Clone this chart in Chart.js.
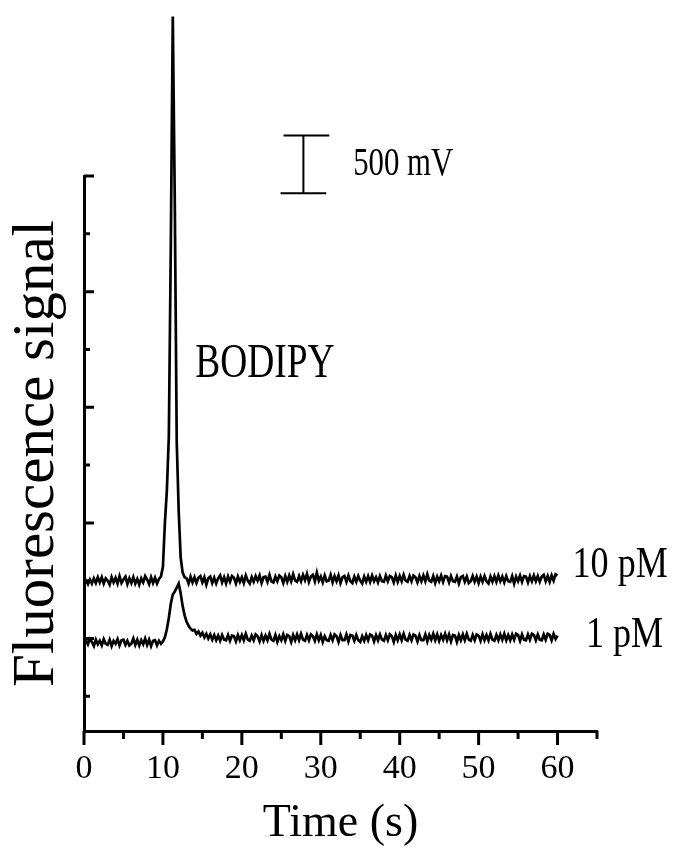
<!DOCTYPE html>
<html>
<head>
<meta charset="utf-8">
<script src="https://cdn.jsdelivr.net/npm/chart.js@4.4.0/dist/chart.umd.min.js"></script>
<style>
  body { margin: 0; background: #fff; }
  canvas { display: block; }
</style>
</head>
<body>
<canvas id="traceChart" width="674" height="852"></canvas>
<script>
// detector traces, mV, one reading every 0.25 s from 0 to 60 s
const sampleStep = 0.25;

const tenPmSignal = [
  960, 1000, 970, 1010,   975, 1020, 980, 1030,   985, 1030, 975, 1020,   1000, 965, 1030, 985,
  1025, 975, 1040, 980,   1010, 1035, 970, 1020,   980, 1030, 975, 1015,   965, 1020, 985, 1040,
  1010, 970, 1030, 980,   1025, 975, 1015, 1035,   1120, 1500, 1780, 2250,   3900, 5880, 4300, 2200,
  1600, 1200, 1070, 1030,   1020, 975, 1035, 985,   1030, 980, 1025, 1040,   985, 1030, 965, 1020,
  1035, 980, 1025, 975,   1020, 1045, 985, 1030,   975, 1035, 990, 1040,   1025, 975, 1035, 990,
  1030, 980, 1045, 1000,   975, 1030, 990, 1040,   1000, 1045, 980, 1030,   1035, 990, 1050, 995,
  985, 1035, 995, 1045,   1030, 980, 1040, 990,   1045, 995, 1055, 1000,   990, 1040, 995, 1050,
  1005, 1060, 990, 1035,   1050, 995, 1070, 1000,   1035, 985, 1045, 995,   1000, 1050, 985, 1040,
  995, 1045, 980, 1030,   1040, 990, 1045, 995,   980, 1035, 990, 1040,   1000, 975, 1035, 990,
  1040, 990, 1045, 995,   1030, 985, 1040, 995,   990, 1045, 995, 1040,   1030, 985, 1045, 990,
  1040, 995, 1050, 1000,   990, 1040, 995, 1045,   1030, 985, 1040, 995,   1045, 995, 1055, 1000,
  990, 1040, 980, 1035,   995, 1045, 990, 1040,   1035, 985, 1040, 995,   990, 1035, 975, 1030,
  1040, 990, 1035, 980,   995, 1040, 990, 1035,   980, 1035, 990, 1040,   995, 975, 1035, 990,
  1040, 990, 1045, 995,   1035, 985, 1040, 995,   990, 1040, 975, 1035,   995, 1045, 990, 1040,
  1035, 985, 1040, 995,   1045, 995, 1040, 990,   1035, 1050, 995, 1040,   990, 1045, 1000, 1055,
  1045
];

const onePmSignal = [
  440, 485, 450, 495,   470, 435, 490, 450,   480, 440, 495, 455,   445, 490, 435, 480,
  455, 495, 440, 485,   490, 445, 480, 440,   455, 500, 445, 490,   440, 485, 450, 500,
  445, 490, 435, 480,   485, 440, 480, 455,   475, 510, 580, 680,   800, 880, 905, 940,
  975, 890, 780, 700,   645, 610, 585, 570,   575, 540, 560, 525,   550, 510, 540, 500,
  535, 490, 530, 485,   525, 480, 530, 490,   485, 530, 480, 525,   520, 475, 530, 485,
  530, 485, 540, 490,   480, 525, 485, 535,   520, 475, 530, 480,   525, 485, 540, 490,
  480, 530, 470, 520,   485, 535, 480, 530,   520, 470, 530, 485,   535, 485, 540, 490,
  480, 530, 485, 535,   520, 480, 535, 485,   530, 470, 520, 485,   480, 530, 485, 535,
  520, 470, 530, 485,   485, 535, 475, 530,   525, 480, 530, 485,   470, 520, 480, 530,
  485, 535, 525, 475,   530, 485, 535, 490,   480, 530, 485, 535,   520, 470, 530, 485,
  535, 485, 540, 490,   480, 530, 485, 535,   525, 475, 530, 485,   485, 535, 475, 530,
  490, 540, 485, 535,   480, 530, 490, 540,   485, 535, 475, 530,   525, 470, 530, 485,
  535, 485, 540, 490,   480, 530, 485, 535,   525, 480, 535, 485,   530, 485, 540, 490,
  480, 530, 485, 535,   490, 540, 485, 530,   485, 535, 490, 540,   530, 480, 535, 490,
  485, 535, 490, 540,   530, 485, 535, 490,   485, 535, 490, 540,   530, 485, 540, 495,
  525
];

const seriesLabels = ['10 pM', '1 pM'];
const xTickValues = [0, 5, 10, 15, 20, 25, 30, 35, 40, 45, 50, 55, 60, 65];
const xTickLabels = [0, 10, 20, 30, 40, 50, 60];
const yTickValues = [0, 500, 1000, 1500, 2000, 2500, 3000, 3500, 4000, 4500];
const scaleBarMv = 500;

const serif = '"Liberation Serif", "Times New Roman", serif';

function toPoints(values) {
  return values.map((v, i) => ({ x: i * sampleStep, y: v }));
}

// narrow serif text like the typeset labels in the figure
function squeezedText(ctx, text, x, y, size, squeeze) {
  ctx.save();
  ctx.font = size + 'px ' + serif;
  ctx.fillStyle = '#000';
  ctx.textBaseline = 'alphabetic';
  ctx.translate(x, y);
  ctx.scale(squeeze, 1);
  ctx.fillText(text, 0, 0);
  ctx.restore();
}

const tickMarks = {
  id: 'tickMarks',
  afterDraw(chart) {
    const ctx = chart.ctx;
    const xs = chart.scales.x;
    const ys = chart.scales.y;
    ctx.save();
    ctx.strokeStyle = '#000';
    ctx.lineWidth = 3;
    ctx.beginPath();
    xTickValues.forEach(v => {
      const px = xs.getPixelForValue(v);
      const len = v % 10 === 0 ? 14 : 8;
      ctx.moveTo(px, xs.top);
      ctx.lineTo(px, xs.top + len);
    });
    yTickValues.forEach(v => {
      const py = ys.getPixelForValue(v);
      const len = v % 1000 === 500 ? 10 : 6;
      ctx.moveTo(ys.right, py);
      ctx.lineTo(ys.right + len, py);
    });
    ctx.stroke();
    ctx.restore();
  }
};

const notes = {
  id: 'notes',
  afterDraw(chart) {
    const ctx = chart.ctx;
    const xs = chart.scales.x;
    const ys = chart.scales.y;

    // 500 mV scale bar
    const barX = xs.getPixelForValue(27.8);
    const barTop = ys.getPixelForValue(4350 + scaleBarMv);
    const barBottom = ys.getPixelForValue(4350);
    const half = xs.getPixelForValue(2.9) - xs.getPixelForValue(0);
    ctx.save();
    ctx.strokeStyle = '#000';
    ctx.lineWidth = 2;
    ctx.beginPath();
    ctx.moveTo(barX, barTop);
    ctx.lineTo(barX, barBottom);
    ctx.moveTo(barX - half + 3, barTop);
    ctx.lineTo(barX + half + 3, barTop);
    ctx.moveTo(barX - half, barBottom);
    ctx.lineTo(barX + half, barBottom);
    ctx.stroke();
    ctx.restore();

    squeezedText(ctx, scaleBarMv + ' mV', xs.getPixelForValue(34.1), ys.getPixelForValue(4507), 40, 0.77);
    squeezedText(ctx, 'BODIPY', xs.getPixelForValue(14.1), ys.getPixelForValue(2760), 48, 0.78);
    squeezedText(ctx, seriesLabels[0], xs.getPixelForValue(61.9), ys.getPixelForValue(1029), 44, 0.82);
    squeezedText(ctx, seriesLabels[1], xs.getPixelForValue(63.6), ys.getPixelForValue(424), 44, 0.82);
  }
};

const ctx = document.getElementById('traceChart');

const traceChart = new Chart(ctx, {
  type: 'line',
  data: {
    datasets: [
      {
        label: seriesLabels[0],
        data: toPoints(tenPmSignal),
        borderColor: '#000',
        borderWidth: 2.7,
        pointRadius: 0,
        tension: 0,
        clip: false
      },
      {
        label: seriesLabels[1],
        data: toPoints(onePmSignal),
        borderColor: '#000',
        borderWidth: 2.7,
        pointRadius: 0,
        tension: 0,
        clip: false
      }
    ]
  },
  options: {
    responsive: false,
    animation: false,
    layout: { padding: { top: 176, right: 77, left: 0, bottom: 0 } },
    plugins: {
      legend: { display: false },
      tooltip: { enabled: false }
    },
    scales: {
      x: {
        type: 'linear',
        min: 0,
        max: 65,
        afterFit(scale) { scale.height = 121; },
        grid: { display: false },
        border: { display: true, color: '#000', width: 3 },
        ticks: {
          stepSize: 5,
          autoSkip: false,
          maxRotation: 0,
          padding: 10,
          color: '#000',
          font: { family: serif, size: 34 },
          callback: v => xTickLabels.includes(v) ? String(v) : ''
        },
        title: {
          display: true,
          text: 'Time (s)',
          color: '#000',
          font: { family: serif, size: 46 },
          padding: { top: 0, bottom: 0 }
        }
      },
      y: {
        type: 'linear',
        min: -300,
        max: 4500,
        afterFit(scale) { scale.width = 84; },
        grid: { display: false },
        border: { display: true, color: '#000', width: 3 },
        ticks: { display: false, stepSize: 500 },
        title: {
          display: true,
          text: 'Fluorescence signal',
          color: '#000',
          font: { family: serif, size: 59 },
          padding: { top: 2, bottom: 0 }
        }
      }
    }
  },
  plugins: [tickMarks, notes]
});
</script>
</body>
</html>
